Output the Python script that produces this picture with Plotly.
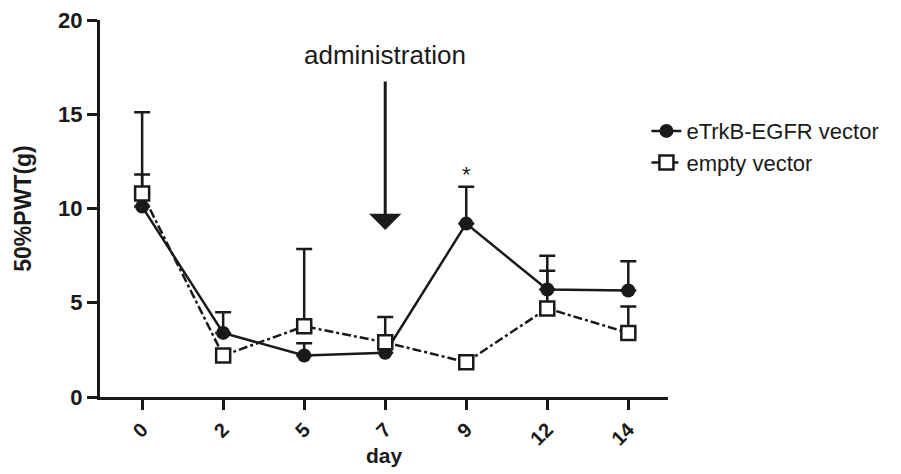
import plotly.graph_objects as go

days = ["0", "2", "5", "7", "9", "12", "14"]
etrkb_mean = [10.1, 3.4, 2.2, 2.35, 9.2, 5.7, 5.65]
etrkb_err = [1.7, 1.1, 0.65, 1.9, 1.95, 1.8, 1.55]
empty_mean = [10.8, 2.2, 3.75, 2.9, 1.85, 4.7, 3.4]
empty_err = [4.3, 0.3, 4.1, 0.3, 0.3, 2.0, 1.4]
zeros = [0] * len(days)

INK = "#1a1a1a"
FONT = "Liberation Sans, Arial, Helvetica, sans-serif"

fig = go.Figure()
fig.add_trace(go.Scatter(
    x=days, y=etrkb_mean, name="eTrkB-EGFR vector", mode="lines+markers",
    line=dict(color=INK, width=2.5),
    marker=dict(symbol="circle", size=14, color=INK),
    error_y=dict(type="data", symmetric=False, array=etrkb_err, arrayminus=zeros,
                 color=INK, thickness=2.5, width=8),
))
fig.add_trace(go.Scatter(
    x=days, y=empty_mean, name="empty vector", mode="lines+markers",
    line=dict(color=INK, width=2.5, dash="dashdot"),
    marker=dict(symbol="square", size=14, color="white", line=dict(color=INK, width=2.5)),
    error_y=dict(type="data", symmetric=False, array=empty_err, arrayminus=zeros,
                 color=INK, thickness=2.5, width=8),
))

i7 = days.index("7")
i9 = days.index("9")
# administration arrow
fig.add_annotation(x=i7, y=8.86, ax=0, ay=-150, text="", showarrow=True,
                   arrowhead=1, arrowsize=1.8, arrowwidth=3, arrowcolor=INK,
                   xref="x", yref="y", standoff=0)
fig.add_annotation(x=i7, y=18.15, text="administration", showarrow=False,
                   xref="x", yref="y", yanchor="middle",
                   font=dict(family=FONT, size=26, color=INK))
# significance star
fig.add_annotation(x=i9, y=11.8, text="*", showarrow=False,
                   xref="x", yref="y",
                   font=dict(family=FONT, size=22, color=INK))

fig.update_layout(
    width=893, height=466,
    margin=dict(l=92, r=233, t=12, b=77, autoexpand=False),
    paper_bgcolor="white", plot_bgcolor="white",
    font=dict(family=FONT, color=INK),
    showlegend=True,
    legend=dict(x=0.962, y=0.761, xanchor="left", yanchor="top",
                font=dict(family=FONT, size=22, color=INK),
                bgcolor="rgba(0,0,0,0)", tracegroupgap=0),
    xaxis=dict(
        type="category", range=[-0.52, 6.49], automargin=False,
        showline=True, linecolor=INK, linewidth=3, showgrid=False, zeroline=False,
        ticks="outside", ticklen=10, tickwidth=3, tickcolor=INK,
        tickangle=-45, ticklabeloverflow="allow",
        tickfont=dict(family=FONT, size=20, color=INK, weight="bold"),
        title=dict(text="day", standoff=0,
                   font=dict(family=FONT, size=21, color=INK, weight="bold")),
    ),
    yaxis=dict(
        range=[0, 20], tickvals=[0, 5, 10, 15, 20], automargin=False,
        showline=True, linecolor=INK, linewidth=3, showgrid=False, zeroline=False,
        ticks="outside", ticklen=10, tickwidth=3, tickcolor=INK,
        ticklabeloverflow="allow",
        tickfont=dict(family=FONT, size=22, color=INK, weight="bold"),
        title=dict(text="50%PWT(g)", standoff=21,
                   font=dict(family=FONT, size=23, color=INK, weight="bold")),
    ),
)

fig.write_html("out.html")
